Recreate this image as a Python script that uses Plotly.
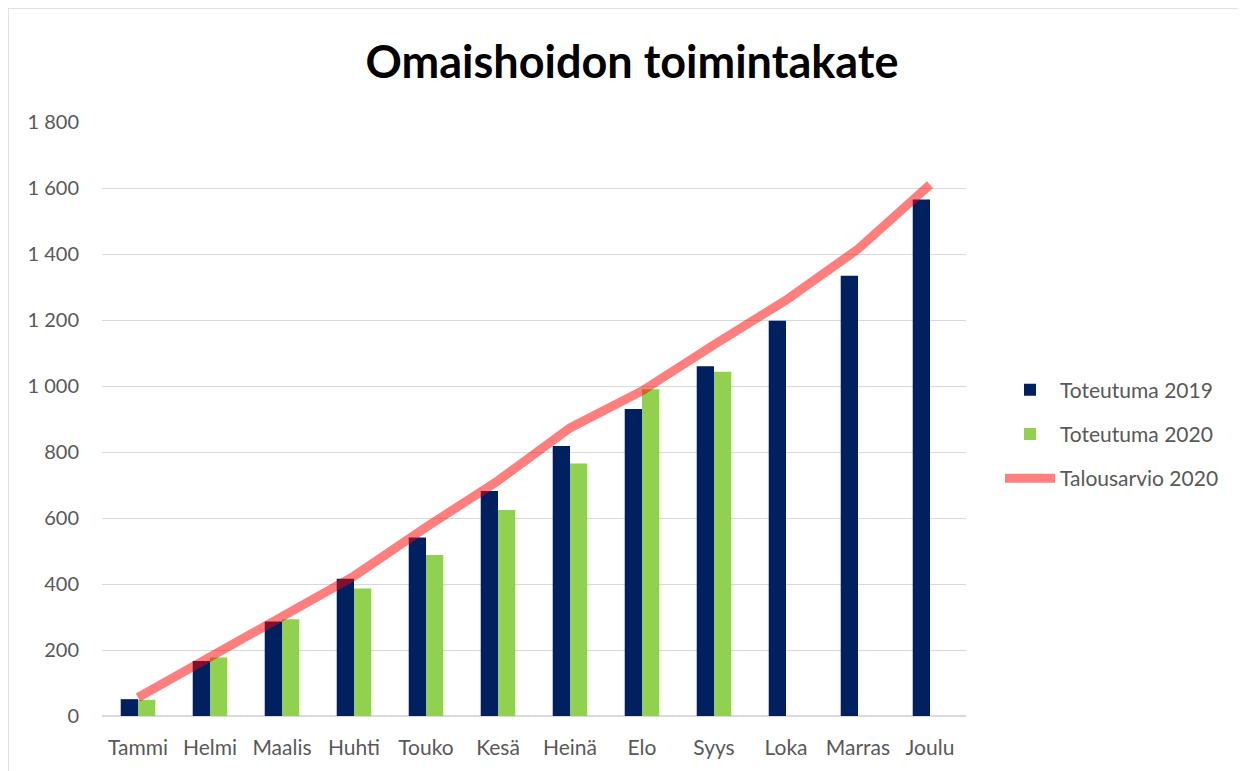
import plotly.graph_objects as go

months = ["Tammi", "Helmi", "Maalis", "Huhti", "Touko", "Kesä", "Heinä", "Elo", "Syys", "Loka", "Marras", "Joulu"]
toteutuma_2019 = [51, 167, 286, 416, 541, 682, 818, 930, 1060, 1198, 1334, 1565]
toteutuma_2020 = [49, 177, 293, 386, 488, 624, 765, 990, 1043]
talousarvio_2020 = [56, 178, 298, 424, 572, 713, 873, 985, 1125, 1260, 1415, 1610]
y_tick_vals = [0, 200, 400, 600, 800, 1000, 1200, 1400, 1600, 1800]
y_tick_text = ["0", "200", "400", "600", "800", "1 000", "1 200", "1 400", "1 600", "1 800"]

FONT = "Lato"
GREY = "#595959"
OFF = 8  # page body margin

fig = go.Figure()
fig.add_trace(go.Bar(x=months, y=toteutuma_2019, name="Toteutuma 2019", legendgroup="a",
                     marker=dict(color="#002060", line=dict(width=0))))
fig.add_trace(go.Bar(x=months[:len(toteutuma_2020)], y=toteutuma_2020, name="Toteutuma 2020",
                     legendgroup="b", marker=dict(color="#92D050", line=dict(width=0))))
fig.add_trace(go.Scatter(x=months, y=talousarvio_2020, name="Talousarvio 2020", mode="lines",
                         legendgroup="c", line=dict(color="rgba(255,0,0,0.5)", width=9)))

# target page coordinates of the plot area
L, R, T, B = 102, 966, 122, 716
W, H = 1246 - OFF, 771 - OFF

def px(xp):
    return (xp - L) / (R - L)

def py(yp):
    return (B - yp) / (B - T)

fig.update_layout(
    width=W, height=H,
    margin=dict(l=L - OFF, r=W - (R - OFF), t=T - OFF, b=H - (B - OFF), pad=0),
    paper_bgcolor="white", plot_bgcolor="white",
    font=dict(family=FONT, size=20, color=GREY),
    title=dict(text="<b>Omaishoidon toimintakate</b>", x=px(632), xanchor="center",
               y=1 - (62 - OFF) / H, yanchor="middle", xref="paper",
               font=dict(family=FONT, size=45, color="black")),
    barmode="group", bargap=0.52, bargroupgap=0,
    showlegend=True,
    legend=dict(x=px(1000), xanchor="left", y=py(434), yanchor="middle",
                font=dict(family=FONT, size=21, color=GREY),
                tracegroupgap=14, itemwidth=50, bgcolor="rgba(0,0,0,0)"),
    xaxis=dict(showgrid=False, showline=False, ticks="", zeroline=False,
               tickfont=dict(family=FONT, size=21, color=GREY), ticklabelstandoff=17),
    yaxis=dict(range=[0, 1800], tickvals=y_tick_vals, ticktext=y_tick_text,
               showgrid=True, gridcolor="#d9d9d9", gridwidth=1.3, zeroline=True,
               zerolinecolor="#d9d9d9", zerolinewidth=1.5, showline=False, ticks="",
               tickfont=dict(family=FONT, size=20, color=GREY), ticklabelstandoff=22),
    shapes=[dict(type="rect", xref="paper", yref="paper",
                 x0=px(8), x1=px(1260), y0=py(790), y1=py(8),
                 line=dict(color="#d9d9d9", width=1.5), fillcolor="rgba(0,0,0,0)", layer="below")],
)

fig.write_html("out.html")
